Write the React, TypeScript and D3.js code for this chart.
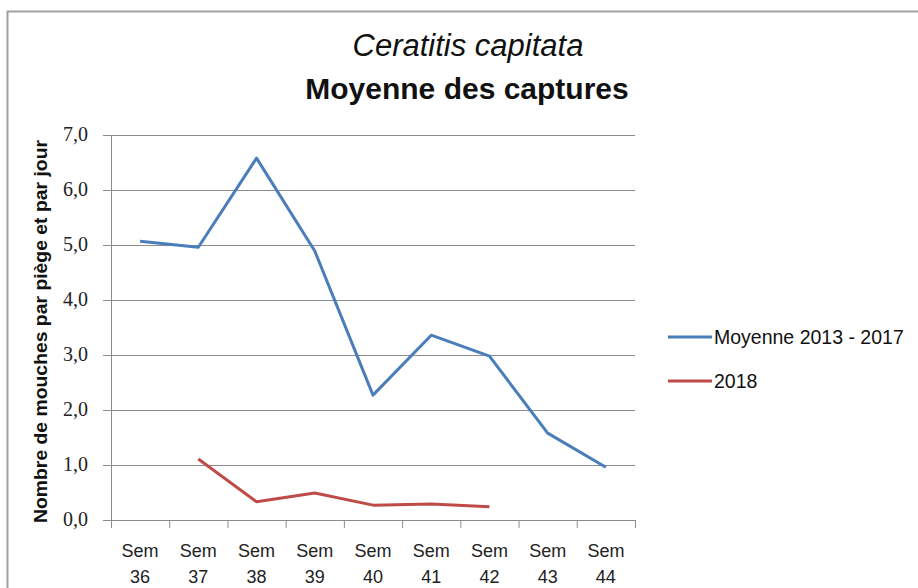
import { useEffect, useRef } from "react"
import * as d3 from "d3"

const categories = ["Sem 36", "Sem 37", "Sem 38", "Sem 39", "Sem 40", "Sem 41", "Sem 42", "Sem 43", "Sem 44"]
const moyenne = [5.07, 4.96, 6.58, 4.89, 2.27, 3.36, 2.98, 1.58, 0.96]
const an2018: (number | null)[] = [null, 1.11, 0.33, 0.49, 0.27, 0.29, 0.24, null, null]
const yTicks = [0, 1, 2, 3, 4, 5, 6, 7]

const series = [
  { label: "Moyenne 2013 - 2017", color: "#4a7ebb", values: moyenne },
  { label: "2018", color: "#be4b48", values: an2018 },
]

export default function App() {
  const svgRef = useRef<SVGSVGElement>(null)

  useEffect(() => {
    if (!svgRef.current) return
    const svg = d3.select(svgRef.current)
    svg.selectAll("*").remove()

    const width = 918
    const height = 588
    const margin = { top: 135, left: 111, right: 283, bottom: 68 }
    const innerW = width - margin.left - margin.right
    const innerH = height - margin.top - margin.bottom
    const font = "'Liberation Sans', Arial, sans-serif"
    const serif = "'Liberation Serif', 'DejaVu Serif', serif"

    svg.append("rect").attr("width", width).attr("height", height).attr("fill", "#fff")
    // cadre du graphique
    svg
      .append("rect")
      .attr("x", 7.5)
      .attr("y", 11.5)
      .attr("width", width + 20)
      .attr("height", height + 20)
      .attr("fill", "none")
      .attr("stroke", "#a0a0a0")
      .attr("stroke-width", 2)

    const x = d3.scaleBand().domain(categories).range([0, innerW])
    const y = d3.scaleLinear().domain([0, 7]).range([innerH, 0])

    const g = svg.append("g").attr("transform", `translate(${margin.left},${margin.top})`)

    // grille
    g.selectAll(".grid")
      .data(yTicks)
      .enter()
      .append("line")
      .attr("x1", -8)
      .attr("x2", innerW)
      .attr("y1", (d) => y(d) + 0.5)
      .attr("y2", (d) => y(d) + 0.5)
      .attr("stroke", "#8c8c8c")
      .attr("stroke-width", 1)

    // axe Y
    g.append("line")
      .attr("x1", 0.5)
      .attr("x2", 0.5)
      .attr("y1", 0)
      .attr("y2", innerH)
      .attr("stroke", "#8c8c8c")

    g.selectAll(".ylab")
      .data(yTicks)
      .enter()
      .append("text")
      .attr("x", -23)
      .attr("y", (d) => y(d) + 6)
      .attr("text-anchor", "end")
      .attr("font-family", serif)
      .attr("font-size", 20)
      .attr("fill", "#222")
      .text((d) => d3.format(".1f")(d).replace(".", ","))

    // axe X ticks
    const bounds = categories.map((c) => x(c) as number).concat([innerW])
    g.selectAll(".xtick")
      .data(bounds)
      .enter()
      .append("line")
      .attr("x1", (d) => d + 0.5)
      .attr("x2", (d) => d + 0.5)
      .attr("y1", innerH)
      .attr("y2", innerH + 8)
      .attr("stroke", "#8c8c8c")

    const xl = g
      .selectAll(".xlab")
      .data(categories)
      .enter()
      .append("text")
      .attr("text-anchor", "middle")
      .attr("font-family", font)
      .attr("font-size", 18)
      .attr("fill", "#222")
    xl.append("tspan")
      .attr("x", (d) => (x(d) as number) + x.bandwidth() / 2)
      .attr("y", innerH + 37)
      .text((d) => d.split(" ")[0])
    xl.append("tspan")
      .attr("x", (d) => (x(d) as number) + x.bandwidth() / 2)
      .attr("y", innerH + 63)
      .text((d) => d.split(" ")[1])

    // courbes
    const line = d3
      .line<number | null>()
      .defined((d) => d !== null)
      .x((_, i) => (x(categories[i]) as number) + x.bandwidth() / 2)
      .y((d) => y(d as number))

    series.forEach((s) => {
      g.append("path")
        .datum(s.values)
        .attr("d", line)
        .attr("fill", "none")
        .attr("stroke", s.color)
        .attr("stroke-width", 3)
        .attr("stroke-linejoin", "round")
    })

    // titre
    svg
      .append("text")
      .attr("x", 468)
      .attr("y", 56)
      .attr("text-anchor", "middle")
      .attr("font-family", font)
      .attr("font-style", "italic")
      .attr("font-size", 31)
      .attr("fill", "#111")
      .text("Ceratitis capitata")
    svg
      .append("text")
      .attr("x", 467)
      .attr("y", 99)
      .attr("text-anchor", "middle")
      .attr("font-family", font)
      .attr("font-weight", "bold")
      .attr("font-size", 30)
      .attr("fill", "#111")
      .text("Moyenne des captures")

    // titre axe Y
    svg
      .append("text")
      .attr("transform", `translate(47,${margin.top + innerH / 2 + 4}) rotate(-90)`)
      .attr("text-anchor", "middle")
      .attr("font-family", font)
      .attr("font-weight", "bold")
      .attr("font-size", 18)
      .attr("textLength", 383)
      .attr("lengthAdjust", "spacingAndGlyphs")
      .attr("fill", "#111")
      .text("Nombre de mouches par piège et par jour")

    // légende
    const legend = svg.append("g").attr("transform", "translate(668,337)")
    series.forEach((s, i) => {
      const lg = legend.append("g").attr("transform", `translate(0,${i * 44})`)
      lg.append("line").attr("x1", 0).attr("x2", 44).attr("stroke", s.color).attr("stroke-width", 3)
      lg.append("text")
        .attr("x", 46)
        .attr("y", 7)
        .attr("font-family", font)
        .attr("font-size", 19.5)
        .attr("fill", "#111")
        .text(s.label)
    })
  }, [])

  return (
    <div style={{ position: "absolute", left: 0, top: 0 }}>
      <svg ref={svgRef} width={918} height={588} style={{ display: "block" }}></svg>
    </div>
  )
}
